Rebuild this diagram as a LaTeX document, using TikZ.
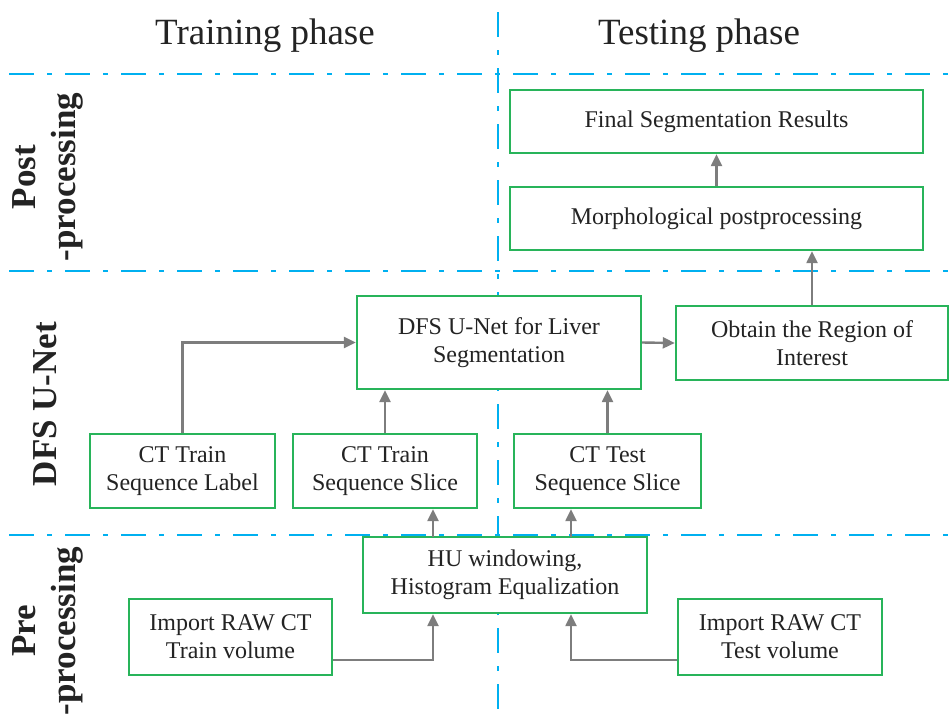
\documentclass[tikz,border=0pt]{standalone}
\usepackage{fontspec}
\setmainfont{Liberation Serif}
\usetikzlibrary{arrows.meta}
\definecolor{sep}{RGB}{0,176,240}
\definecolor{boxgreen}{RGB}{40,180,90}
\definecolor{arrgray}{RGB}{125,125,125}
\definecolor{txt}{RGB}{35,35,35}
\begin{document}
\begin{tikzpicture}[x=1pt,y=-1pt,
  sepline/.style={sep,line width=2pt,dash pattern=on 25pt off 13pt on 5pt off 13pt},
  box/.style={draw=boxgreen,line width=2.4pt,fill=white,align=center,inner sep=0pt,
    text=txt,font=\fontsize{24}{28}\selectfont},
  conn/.style={arrgray,line width=2.4pt,-{Triangle[length=12pt,width=11pt]}},
  phase/.style={text=txt,font=\fontsize{37}{42}\selectfont},
  side/.style={text=txt,rotate=90,align=center,font=\bfseries\fontsize{35}{40}\selectfont}]
\useasboundingbox (0,0) rectangle (950,716);
% separators
\draw[sepline] (9,74) -- (950,74);
\draw[sepline] (9,271) -- (950,271);
\draw[sepline] (9,535) -- (950,535);
\draw[sepline] (498,12) -- (498,716);
% titles
\node[phase] (train) at (265,36) {Training phase};
\node[phase] (test) at (699,36) {Testing phase};
\node[side] (post) at (48,177) {Post\\-processing};
\node[side] (dfs) at (45,404) {DFS U-Net};
\node[side] (pre) at (48,631) {Pre\\-processing};
% boxes
\node[box,minimum width=413pt,minimum height=63pt] (final) at (716.5,121.5) {Final Segmentation Results};
\node[box,minimum width=413pt,minimum height=63pt] (morph) at (716.5,218.5) {Morphological postprocessing};
\node[box,minimum width=284pt,minimum height=93pt] (net) at (499,342.5) {DFS U-Net for Liver\\Segmentation};
\node[box,minimum width=272pt,minimum height=74pt] (roi) at (812,343) {Obtain the Region of\\Interest};
\node[box,minimum width=185pt,minimum height=74pt] (label) at (182.5,471) {CT Train\\Sequence Label};
\node[box,minimum width=184pt,minimum height=74pt] (trs) at (385,471) {CT Train\\Sequence Slice};
\node[box,minimum width=187pt,minimum height=74pt] (tes) at (607.5,471) {CT Test\\Sequence Slice};
\node[box,minimum width=284pt,minimum height=76pt] (hu) at (505,575) {HU windowing,\\Histogram Equalization};
\node[box,minimum width=203pt,minimum height=76pt] (imtr) at (230.5,637) {Import RAW CT\\Train volume};
\node[box,minimum width=204pt,minimum height=76pt] (imte) at (780,637) {Import RAW CT\\Test volume};
% connectors
\draw[conn] (morph.north) -- (final.south);
\draw[conn] (roi.north) -- (roi.north |- morph.south);
\draw[conn] (net.east) -- (roi.west);
\draw[conn] (label.north) |- (net.west);
\draw[conn] (trs.north) -- (trs.north |- net.south);
\draw[conn] (tes.north) -- (tes.north |- net.south);
\coordinate (hu1) at (433,537);
\coordinate (hu2) at (571,537);
\draw[conn] (hu1) -- (hu1 |- trs.south);
\draw[conn] (hu2) -- (hu2 |- tes.south);
\draw[conn] (imtr.east |- 0,660) -| (hu1 |- hu.south);
\draw[conn] (imte.west |- 0,660) -| (hu2 |- hu.south);
\end{tikzpicture}
\end{document}
